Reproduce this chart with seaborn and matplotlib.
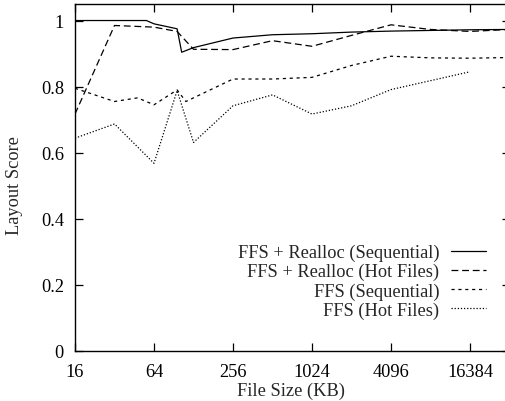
import matplotlib
matplotlib.use("Agg")
import pandas
import seaborn as sea
from matplotlib import pyplot
from matplotlib.ticker import FormatStrFormatter, FixedLocator

# values (file size in KB -> layout score)
realloc_seq_kb = [16, 32, 48, 56, 64, 96, 104, 128, 256, 512, 1024, 2048, 4096, 8192, 16384, 32768]
realloc_seq = [1.0, 1.0, 1.0, 1.0, 0.99, 0.975, 0.904, 0.918, 0.947, 0.957, 0.96, 0.965, 0.968, 0.97, 0.972, 0.973]

realloc_hot_kb = [16, 32, 64, 96, 128, 256, 512, 1024, 2048, 4096, 8192, 16384, 32768]
realloc_hot = [0.717, 0.985, 0.98, 0.967, 0.913, 0.912, 0.939, 0.922, 0.955, 0.987, 0.973, 0.967, 0.973]

ffs_seq_kb = [16, 32, 48, 64, 96, 112, 256, 512, 1024, 2048, 4096, 8192, 16384, 32768]
ffs_seq = [0.795, 0.755, 0.766, 0.745, 0.79, 0.755, 0.823, 0.823, 0.828, 0.864, 0.892, 0.887, 0.886, 0.888]

ffs_hot_kb = [16, 32, 64, 96, 128, 256, 512, 1024, 2048, 4096, 8192, 16384]
ffs_hot = [0.644, 0.687, 0.568, 0.788, 0.631, 0.742, 0.775, 0.717, 0.742, 0.791, 0.818, 0.845]

names = [
    "FFS + Realloc (Sequential)",
    "FFS + Realloc (Hot Files)",
    "FFS (Sequential)",
    "FFS (Hot Files)",
]
x_ticks = [16, 64, 256, 1024, 4096, 16384]
y_ticks = [0, 0.2, 0.4, 0.6, 0.8, 1.0]


def build_frame():
    frames = []
    for name, xs, ys in zip(
        names,
        [realloc_seq_kb, realloc_hot_kb, ffs_seq_kb, ffs_hot_kb],
        [realloc_seq, realloc_hot, ffs_seq, ffs_hot],
    ):
        frames.append(pandas.DataFrame({"size": xs, "score": ys, "series": name}))
    return pandas.concat(frames, ignore_index=True)


sea.set_theme(style="ticks")
pyplot.rcParams["font.family"] = ["Liberation Serif", "DejaVu Serif"]

figure = pyplot.figure(figsize=(5.05, 4.02), dpi=100)
axis = figure.add_axes([75 / 505, 50 / 402, 434.5 / 505, 347 / 402])

dataframe = build_frame()
dash_map = {
    names[0]: "",
    names[1]: (5.5, 3.0),
    names[2]: (2.5, 3.0),
    names[3]: (1.0, 1.5),
}
sea.lineplot(
    data=dataframe,
    x="size",
    y="score",
    style="series",
    dashes=dash_map,
    color="black",
    linewidth=0.9,
    sort=False,
    estimator=None,
    ax=axis,
)

font_size = 13.2

axis.set_xscale("log", base=2)
axis.set_xlim(16, 32768)
axis.set_ylim(0, 1.05)
axis.xaxis.set_major_locator(FixedLocator(x_ticks))
axis.xaxis.set_minor_locator(FixedLocator([]))
axis.set_xticklabels([str(t) for t in x_ticks])
axis.yaxis.set_major_locator(FixedLocator(y_ticks))
axis.yaxis.set_major_formatter(FormatStrFormatter("%g"))

axis.tick_params(
    which="major", direction="in", length=6, width=0.9,
    top=True, right=True, labelsize=font_size, colors="black",
)
axis.tick_params(axis="x", pad=9)
axis.tick_params(axis="y", pad=8)
for spine in axis.spines.values():
    spine.set_visible(True)
    spine.set_linewidth(1.0)
    spine.set_color("black")

axis.set_xlabel("File Size (KB)", fontsize=font_size)
axis.set_ylabel("Layout Score", fontsize=font_size)
axis.xaxis.set_label_coords(0.497, -0.087)
axis.yaxis.set_label_coords(-0.12, 0.48)

handles, labels = axis.get_legend_handles_labels()
axis.legend(
    handles, labels,
    loc="upper right",
    bbox_to_anchor=(486 / 505, 1 - 245 / 402),
    bbox_transform=figure.transFigure,
    frameon=False,
    markerfirst=False,
    fontsize=font_size,
    handlelength=1.9,
    handletextpad=0.65,
    labelspacing=0.1,
    borderpad=0.0,
    borderaxespad=0.0,
)

figure.savefig("out.png", dpi=100)
